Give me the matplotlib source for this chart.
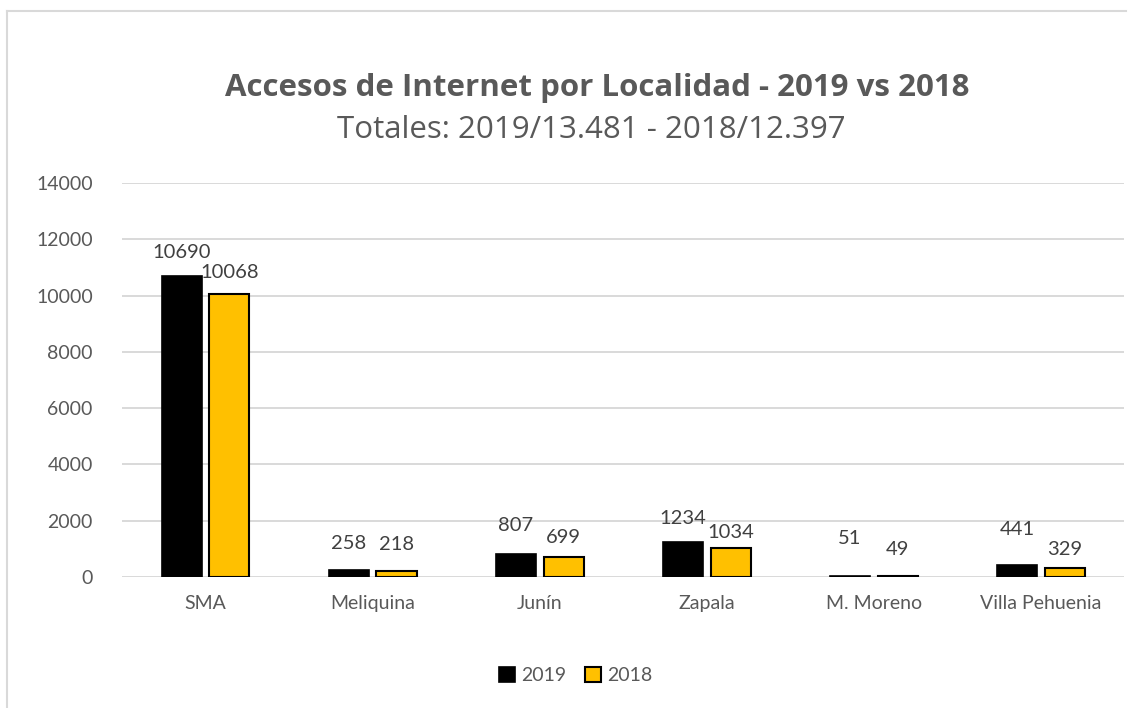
import numpy as np
import matplotlib.pyplot as plt
from matplotlib.lines import Line2D

# Data
localidades = ["SMA", "Meliquina", "Junín", "Zapala", "M. Moreno", "Villa Pehuenia"]
accesos_2019 = [10690, 258, 807, 1234, 51, 441]
accesos_2018 = [10068, 218, 699, 1034, 49, 329]
y_ticks = [0, 2000, 4000, 6000, 8000, 10000, 12000, 14000]

# label offsets above bar tops (points), as placed in the original
dy_2019 = [17, 19, 21, 17, 27, 25]
dy_2018 = [15, 19, 14, 11, 19, 13]

plt.rcParams['font.family'] = ['Lato', 'DejaVu Sans']
gray_txt = '#595959'
grid_col = '#D9D9D9'

fig = plt.figure(figsize=(11.29, 7.08), dpi=100)
ax = fig.add_axes([0.108, 0.185, 0.888, 0.5565])

x = np.arange(len(localidades))
w = 0.24
off = 0.143
b19 = ax.bar(x - off, accesos_2019, w, color='black', edgecolor='black', linewidth=1.2, label='2019', zorder=3)
b18 = ax.bar(x + off, accesos_2018, w, color='#FFC000', edgecolor='black', linewidth=1.5, label='2018', zorder=3)

for bars, vals, dys in [(b19, accesos_2019, dy_2019), (b18, accesos_2018, dy_2018)]:
    for rect, v, dy in zip(bars, vals, dys):
        ax.annotate(str(v), (rect.get_x() + rect.get_width() / 2, v),
                    xytext=(0, dy), textcoords='offset points',
                    ha='center', va='center', fontsize=14.5, color='#404040')

ax.set_xlim(-0.5, len(localidades) - 0.5)
ax.set_ylim(0, 14000)
ax.set_yticks(y_ticks)
ax.set_yticklabels([str(t) for t in y_ticks])
ax.set_xticks(x)
ax.set_xticklabels(localidades)
ax.tick_params(axis='both', length=0, labelsize=14, labelcolor=gray_txt)
ax.tick_params(axis='y', pad=21)
ax.tick_params(axis='x', pad=13)
ax.yaxis.grid(True, color=grid_col, linewidth=1.4, zorder=0)
for s in ax.spines.values():
    s.set_visible(False)

fig.text(0.529, 0.876, "Accesos de Internet por Localidad - 2019 vs 2018",
         ha='center', va='center', fontsize=22.5, fontweight='bold', color=gray_txt,
         family=['Open Sans', 'DejaVu Sans'])
fig.text(0.524, 0.817, "Totales: 2019/13.481 - 2018/12.397",
         ha='center', va='center', fontsize=22.5, color=gray_txt,
         family=['Open Sans', 'DejaVu Sans'])

fig.legend(handles=[b19, b18], labels=['2019', '2018'], loc='center',
           bbox_to_anchor=(0.51, 0.046), ncol=2, frameon=False,
           fontsize=14, labelcolor=gray_txt, handlelength=0.8, handleheight=0.8,
           handletextpad=0.3, columnspacing=1.0)

# chart border (top and left visible in the reference)
fig.add_artist(Line2D([7 / 1129, 7 / 1129], [0, 1 - 11 / 708], color=grid_col, linewidth=1.5))
fig.add_artist(Line2D([7 / 1129, 1126 / 1129], [1 - 11 / 708, 1 - 11 / 708], color=grid_col, linewidth=1.5))

fig.savefig('out.png', dpi=100)
